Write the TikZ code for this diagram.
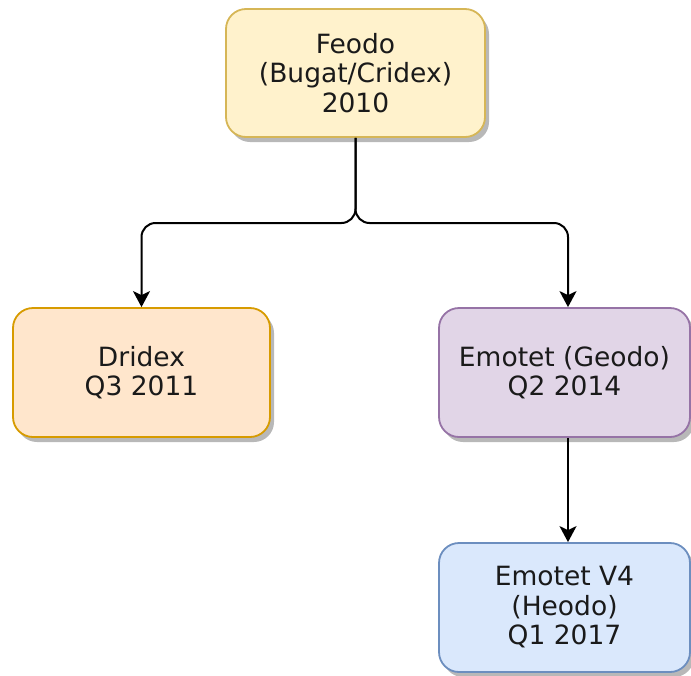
\documentclass[tikz,border=0pt]{standalone}
\usepackage{fontspec}
\setmainfont{DejaVu Sans}
\usetikzlibrary{arrows.meta,shadows}
\definecolor{yfill}{HTML}{FFF2CC}\definecolor{ydraw}{HTML}{D6B656}
\definecolor{ofill}{HTML}{FFE6CC}\definecolor{odraw}{HTML}{D79B00}
\definecolor{pfill}{HTML}{E1D5E7}\definecolor{pdraw}{HTML}{9673A6}
\definecolor{bfill}{HTML}{DAE8FC}\definecolor{bdraw}{HTML}{6C8EBF}
\definecolor{txt}{HTML}{1A1A1A}
\tikzset{
  box/.style={draw, rounded corners=20pt, line width=1.8pt, align=center,
    text=txt, font=\fontsize{26.5}{29.5}\selectfont, inner sep=0pt,
    drop shadow={shadow xshift=4pt, shadow yshift=-5pt, fill=black, opacity=0.28}},
  conn/.style={line width=2pt, draw=black, rounded corners=14pt,
    -{Stealth[length=16pt,width=17pt,inset=4pt]}}
}
\begin{document}
\begin{tikzpicture}[x=1pt,y=-1pt]
\useasboundingbox (0,0) rectangle (691,675);
\node[box, fill=yfill, draw=ydraw, minimum width=259pt, minimum height=128pt] (feodo) at (355.5,73) {Feodo\\(Bugat/Cridex)\\2010};
\node[box, fill=ofill, draw=odraw, minimum width=257pt, minimum height=129pt] (dridex) at (141.5,372.5) {Dridex\\Q3 2011};
\node[box, fill=pfill, draw=pdraw, minimum width=251pt, minimum height=129pt] (emotet) at (564.5,372.5) {Emotet (Geodo)\\Q2 2014};
\node[box, fill=bfill, draw=bdraw, minimum width=251pt, minimum height=129pt] (emotetv) at (564.5,607.5) {Emotet V4\\(Heodo)\\Q1 2017};
\coordinate (fork) at (355.5,223);
\draw[conn] (feodo.south) -- (feodo.south |- fork) -| (dridex.north);
\draw[conn] (feodo.south) -- (feodo.south |- fork) -| ([xshift=3.5pt]emotet.north);
\draw[conn] ([xshift=3.5pt]emotet.south) -- ([xshift=3.5pt]emotetv.north);
\end{tikzpicture}
\end{document}
